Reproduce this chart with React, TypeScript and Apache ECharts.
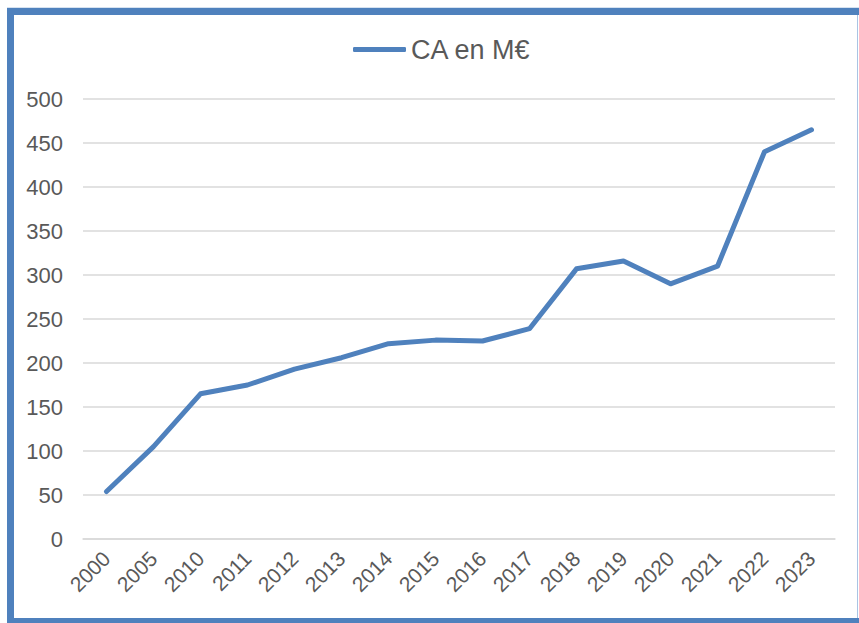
import React, { useEffect, useRef } from "react";
import * as echarts from "echarts";

const years = ["2000", "2005", "2010", "2011", "2012", "2013", "2014", "2015", "2016", "2017", "2018", "2019", "2020", "2021", "2022", "2023"];
const caValues = [54, 105, 165, 175, 193, 206, 222, 226, 225, 239, 307, 316, 290, 310, 440, 465];
const seriesName = "CA en M€";

export default function App() {
  const ref = useRef<HTMLDivElement>(null);
  useEffect(() => {
    if (!ref.current) return;
    const chart = echarts.init(ref.current, undefined, { renderer: "svg" });
    const blue = "#4F81BD";
    chart.setOption({
      animation: false,
      backgroundColor: "#ffffff",
      textStyle: { fontFamily: "Liberation Sans, Arial, sans-serif" },
      graphic: [
        { type: "rect", shape: { x: 10.5, y: 11.5, width: 880, height: 610 }, style: { fill: "none", stroke: blue, lineWidth: 7 }, silent: true },
        { type: "line", shape: { x1: 857.5, y1: 15, x2: 857.5, y2: 618 }, style: { stroke: "#A9C4E4", lineWidth: 1 }, silent: true },
        { type: "line", shape: { x1: 7, y1: 7.5, x2: 859, y2: 7.5 }, style: { stroke: "#D6E2F0", lineWidth: 1 }, silent: true },
      ],
      legend: {
        left: 348,
        top: 31,
        itemWidth: 53,
        itemHeight: 5,
        itemGap: 10,
        icon: "roundRect",
        textStyle: { fontSize: 27, color: "#595959", fontFamily: "Liberation Sans, Arial, sans-serif" },
        data: [seriesName],
      },
      grid: { left: 83, right: 24, top: 99, bottom: 84, containLabel: false },
      xAxis: {
        type: "category",
        data: years,
        boundaryGap: true,
        axisLine: { show: true, lineStyle: { color: "#D9D9D9", width: 1.5 } },
        axisTick: { show: false },
        axisLabel: { rotate: 45, fontSize: 21, color: "#595959", margin: 16, interval: 0 },
      },
      yAxis: {
        type: "value",
        min: 0,
        max: 500,
        interval: 50,
        axisLine: { show: false },
        axisTick: { show: false },
        splitLine: { lineStyle: { color: "#D9D9D9", width: 1.5 } },
        axisLabel: { fontSize: 22, color: "#595959", margin: 20 },
      },
      series: [
        {
          name: seriesName,
          type: "line",
          data: caValues,
          symbol: "none",
          lineStyle: { color: blue, width: 5, cap: "round", join: "round" },
          itemStyle: { color: blue },
        },
      ],
    });
    return () => chart.dispose();
  }, []);
  return <div ref={ref} style={{ position: "fixed", left: 0, top: 0, width: 859, height: 623 }} />;
}
